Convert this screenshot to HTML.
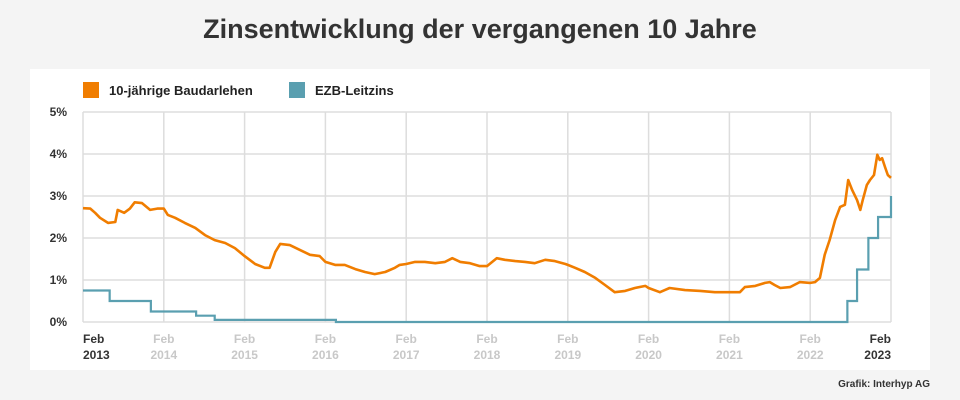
<!DOCTYPE html>
<html><head><meta charset="utf-8"><style>
body{margin:0;width:960px;height:400px;background:#f4f4f4;font-family:"Liberation Sans",sans-serif;overflow:hidden;position:relative}
#title{position:absolute;top:14px;left:0;width:960px;text-align:center;font-size:27px;font-weight:bold;color:#333}
#panel{position:absolute;left:30px;top:69px;width:900px;height:301px;background:#fff}
#credit{position:absolute;right:30px;top:379px;font-size:10px;font-weight:bold;color:#333}
</style></head><body>
<div id="title">Zinsentwicklung der vergangenen 10 Jahre</div>
<div id="panel"></div>
<svg id="chart" width="960" height="400" style="position:absolute;left:0;top:0"></svg>
<div id="credit">Grafik: Interhyp AG</div>
<script>
const yTicks=[0,1,2,3,4,5];
const xYears=[2013,2014,2015,2016,2017,2018,2019,2020,2021,2022,2023];
const loanT=[0,.09,.15,.21,.31,.40,.43,.51,.58,.64,.73,.83,.92,1.0,1.05,1.14,1.26,1.39,1.51,1.63,1.76,1.88,2.0,2.13,2.25,2.31,2.38,2.44,2.56,2.69,2.81,2.93,3.0,3.12,3.24,3.37,3.49,3.61,3.74,3.86,3.92,4.0,4.11,4.23,4.36,4.48,4.57,4.67,4.79,4.91,5.0,5.12,5.22,5.35,5.47,5.59,5.72,5.84,5.97,6.0,6.09,6.21,6.34,6.46,6.58,6.71,6.83,6.96,7.0,7.14,7.20,7.26,7.45,7.64,7.82,8.0,8.13,8.19,8.32,8.44,8.50,8.56,8.63,8.75,8.87,9.0,9.06,9.12,9.18,9.24,9.31,9.37,9.43,9.47,9.52,9.58,9.62,9.65,9.70,9.74,9.79,9.83,9.86,9.89,9.93,9.96,10.0];
const loanV=[2.71,2.7,2.6,2.48,2.36,2.38,2.67,2.6,2.7,2.85,2.83,2.67,2.7,2.7,2.55,2.48,2.36,2.24,2.07,1.95,1.88,1.76,1.57,1.38,1.29,1.29,1.67,1.86,1.83,1.71,1.6,1.57,1.43,1.36,1.36,1.26,1.19,1.14,1.19,1.29,1.36,1.38,1.43,1.43,1.4,1.43,1.52,1.43,1.4,1.33,1.33,1.52,1.48,1.45,1.43,1.4,1.48,1.45,1.38,1.36,1.29,1.19,1.05,0.88,0.71,0.74,0.81,0.86,0.81,0.71,0.76,0.81,0.76,0.74,0.71,0.71,0.71,0.83,0.86,0.93,0.95,0.88,0.81,0.83,0.95,0.93,0.95,1.05,1.6,1.95,2.43,2.74,2.79,3.38,3.14,2.9,2.67,2.9,3.26,3.38,3.5,3.98,3.86,3.9,3.67,3.5,3.43];
const ecbT=[0,.33,.84,1.4,1.63,3.13,9.46,9.58,9.72,9.84,10.0];
const ecbV=[0.75,0.5,0.25,0.15,0.05,0,0.5,1.25,2.0,2.5,3.0];
const X0=83,X1=891,Y0=322,Y1=112;
const x=t=>X0+t*(X1-X0)/10;
const y=v=>Y0-v*(Y0-Y1)/5;
const svg=document.getElementById('chart');const NS='http://www.w3.org/2000/svg';
function mk(tag,a){const e=document.createElementNS(NS,tag);for(const k in a)e.setAttribute(k,a[k]);svg.appendChild(e);return e;}
yTicks.forEach(v=>{
 const l=mk('line',{x1:X0,x2:X1,y1:y(v),y2:y(v),stroke:'#dddddd','stroke-width':1.5});
 
 
 const t=mk('text',{x:67,y:y(v)+4,'text-anchor':'end','font-size':12,'font-weight':'bold',fill:'#333'});t.textContent=v+'%';
 
 
});
xYears.forEach((yr,i)=>{
 const l=mk('line',{x1:x(i),x2:x(i),y1:Y1,y2:Y0,stroke:'#dddddd','stroke-width':1.5});
 
 
 const edge=i===0||i===xYears.length-1;
 const anc=i===0?'start':(i===xYears.length-1?'end':'middle');
 const t=mk('text',{x:i===0?X0:(edge?X1:x(i)),'text-anchor':anc,'font-size':12,'font-weight':'bold',fill:edge?'#333':'#c8c8c8'});
 
 
 const a=document.createElementNS(NS,'tspan');a.setAttribute('x',t.getAttribute('x'));a.setAttribute('y',343);a.textContent='Feb';t.appendChild(a);
 const b=document.createElementNS(NS,'tspan');b.setAttribute('x',t.getAttribute('x'));b.setAttribute('y',359);b.textContent=yr;t.appendChild(b);
});
let d='';ecbT.forEach((t,i)=>{d+=(i?'H'+x(t)+'V'+y(ecbV[i]):'M'+x(t)+','+y(ecbV[i]));});
d+='H'+x(10);
const e=mk('path',{d:d,fill:'none',stroke:'#5a9fb0','stroke-width':2.2});


const o=mk('path',{d:loanT.map((t,i)=>(i?'L':'M')+x(t).toFixed(1)+','+y(loanV[i]).toFixed(1)).join(''),fill:'none',stroke:'#f07d00','stroke-width':2.6,'stroke-linejoin':'round'});


[[83,'#f07d00','10-jährige Baudarlehen'],[289,'#5a9fb0','EZB-Leitzins']].forEach(([lx,c,txt])=>{
 const g=document.createElementNS(NS,'g');svg.appendChild(g);
 
 
 const r=document.createElementNS(NS,'rect');r.setAttribute('x',lx);r.setAttribute('y',82);r.setAttribute('width',16);r.setAttribute('height',16);r.setAttribute('fill',c);g.appendChild(r);
 const t=document.createElementNS(NS,'text');t.setAttribute('x',lx+26);t.setAttribute('y',95);t.setAttribute('font-size',13);t.setAttribute('font-weight','bold');t.setAttribute('fill','#222');t.textContent=txt;g.appendChild(t);
});
</script>
</body></html>
